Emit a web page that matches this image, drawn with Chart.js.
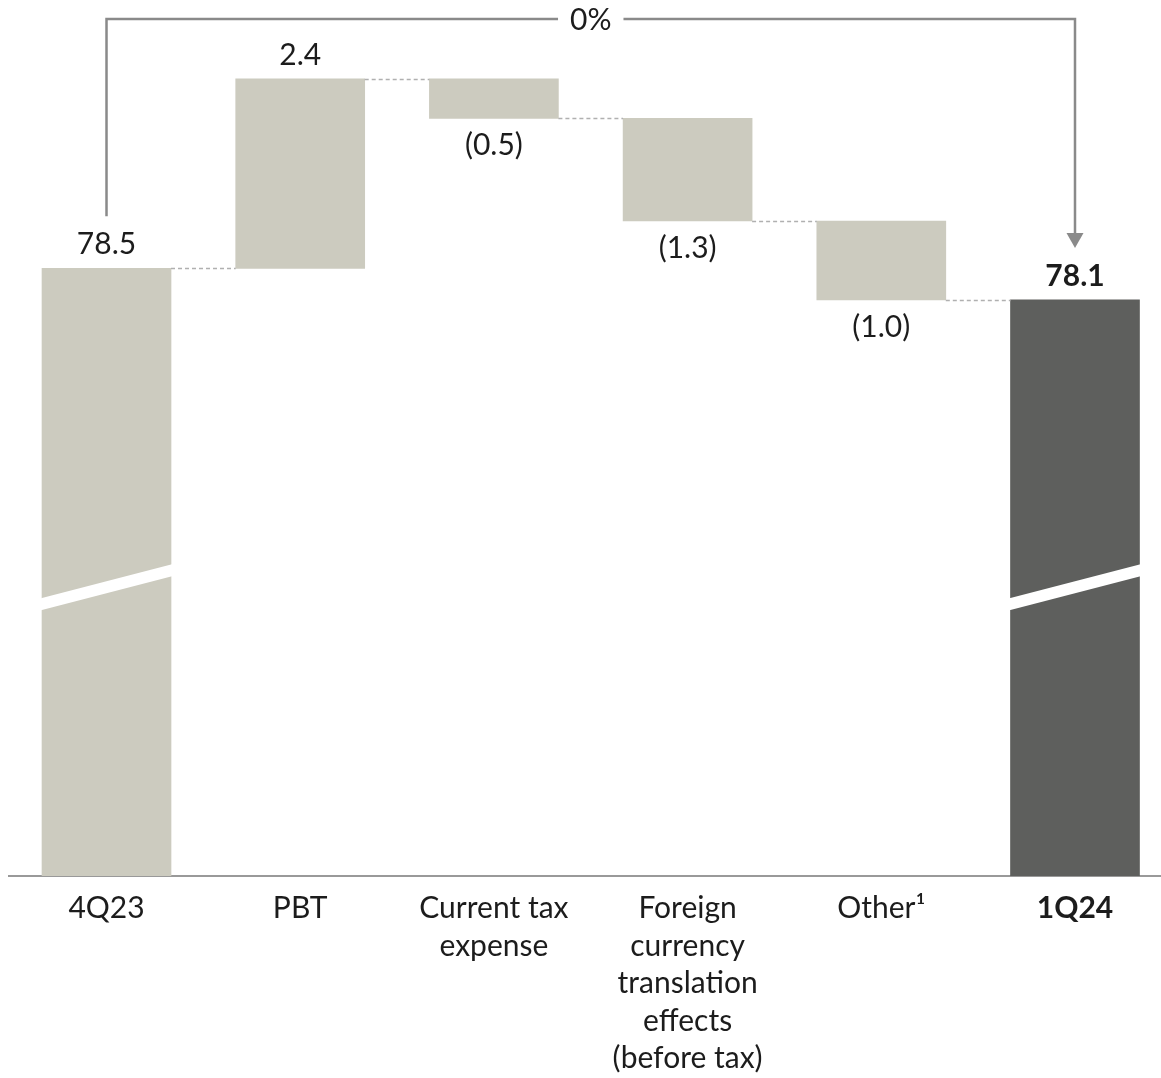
<!DOCTYPE html>
<html>
<head>
<meta charset="utf-8">
<script src="https://cdn.jsdelivr.net/npm/chart.js@4"></script>
<style>
  html, body { margin: 0; padding: 0; background: #fff; }
  #wrap { position: relative; width: 1161px; height: 1078px; }
</style>
</head>
<body>
<div id="wrap"><canvas id="chart"></canvas></div>
<script>
// data
const categories = [
    ['4Q23'],
    ['PBT'],
    ['Current tax', 'expense'],
    ['Foreign', 'currency', 'translation', 'effects', '(before tax)'],
    ['Other\u00B9'],
    ['1Q24']
];
const startValue = 78.5;
const changes = [2.4, -0.5, -1.3, -1.0];
const endValue = 78.1;
const valueLabels = ['78.5', '2.4', '(0.5)', '(1.3)', '(1.0)', '78.1'];
const changeLabel = '0%';

// axis range (the axis is broken, so it does not start at zero)
const yMin = 70.8;
const yMax = 81.9;

const FONT = "Lato, 'Open Sans', sans-serif";
const TEXT = '#1c1c1c';
const LIGHT = '#cccbbf';
const DARK = '#5e5f5d';
const LINE = '#8a8a8a';

// build floating bars for the waterfall
const bars = [];
const levels = []; // running total after each bar
let running = startValue;
bars.push({ x: 0, y: [yMin, startValue] });
levels.push(running);
changes.forEach((c, i) => {
    const from = running;
    running = running + c;
    bars.push({ x: i + 1, y: [Math.min(from, running), Math.max(from, running)] });
    levels.push(running);
});
bars.push({ x: categories.length - 1, y: [yMin, endValue] });
levels.push(endValue);

const colors = bars.map((b, i) => i === bars.length - 1 ? DARK : LIGHT);

// extras drawn on top of the bars: axis breaks, connectors, labels, arrow
const waterfallExtras = {
    id: 'waterfallExtras',
    afterDatasetsDraw(chart) {
        const ctx = chart.ctx;
        const meta = chart.getDatasetMeta(0);
        const y = chart.scales.y;
        const area = chart.chartArea;

        ctx.save();

        // axis break on the two total bars
        [0, bars.length - 1].forEach(i => {
            const el = meta.data[i];
            const half = el.width / 2;
            const yc = y.getPixelForValue(74.46);
            const rise = el.width * 0.264;
            const t = 12;
            ctx.fillStyle = '#fff';
            ctx.beginPath();
            ctx.moveTo(el.x - half - 1, yc + rise / 2 - t / 2);
            ctx.lineTo(el.x + half + 1, yc - rise / 2 - t / 2);
            ctx.lineTo(el.x + half + 1, yc - rise / 2 + t / 2);
            ctx.lineTo(el.x - half - 1, yc + rise / 2 + t / 2);
            ctx.closePath();
            ctx.fill();
        });

        // dashed connectors
        ctx.strokeStyle = '#b0b0b0';
        ctx.lineWidth = 1.5;
        ctx.setLineDash([4, 3]);
        for (let i = 0; i < bars.length - 1; i++) {
            const a = meta.data[i];
            const b = meta.data[i + 1];
            const py = Math.round(y.getPixelForValue(levels[i])) + 0.5;
            ctx.beginPath();
            ctx.moveTo(a.x + a.width / 2, py);
            ctx.lineTo(b.x - b.width / 2, py);
            ctx.stroke();
        }
        ctx.setLineDash([]);

        // value labels
        ctx.textAlign = 'center';
        ctx.textBaseline = 'middle';
        meta.data.forEach((el, i) => {
            const last = i === bars.length - 1;
            ctx.font = (last ? 'bold ' : '') + '30px ' + FONT;
            ctx.fillStyle = TEXT;
            const isDrop = i > 0 && !last && changes[i - 1] < 0;
            if (isDrop) {
                const bottom = y.getPixelForValue(bars[i].y[0]);
                ctx.fillText(valueLabels[i], el.x, bottom + 27);
            } else {
                const top = y.getPixelForValue(bars[i].y[1]);
                ctx.fillText(valueLabels[i], el.x, top - 24);
            }
        });

        // change arrow from first to last bar
        const first = meta.data[0];
        const lastEl = meta.data[bars.length - 1];
        const startY = y.getPixelForValue(startValue) - 52;
        const tipY = y.getPixelForValue(endValue) - 52;
        const topY = area.top + 19;
        const midX = (first.x + lastEl.x) / 2;
        ctx.font = '30px ' + FONT;
        const gap = ctx.measureText(changeLabel).width / 2 + 12;

        ctx.strokeStyle = LINE;
        ctx.lineWidth = 2.5;
        ctx.beginPath();
        ctx.moveTo(first.x, startY);
        ctx.lineTo(first.x, topY);
        ctx.lineTo(midX - gap, topY);
        ctx.moveTo(midX + gap, topY);
        ctx.lineTo(lastEl.x, topY);
        ctx.lineTo(lastEl.x, tipY - 14);
        ctx.stroke();

        ctx.fillStyle = LINE;
        ctx.beginPath();
        ctx.moveTo(lastEl.x - 8.5, tipY - 15);
        ctx.lineTo(lastEl.x + 8.5, tipY - 15);
        ctx.lineTo(lastEl.x, tipY);
        ctx.closePath();
        ctx.fill();

        ctx.fillStyle = TEXT;
        ctx.fillText(changeLabel, midX, topY + 1);

        ctx.restore();
    }
};

new Chart(document.getElementById('chart'), {
    type: 'bar',
    data: {
        datasets: [{
            data: bars,
            backgroundColor: colors,
            borderWidth: 0,
            barThickness: 129
        }]
    },
    options: {
        responsive: true,
        maintainAspectRatio: false,
        animation: false,
        layout: { padding: { left: 9, right: 0, top: 0, bottom: 0 } },
        plugins: {
            legend: { display: false },
            tooltip: { enabled: false }
        },
        scales: {
            x: {
                type: 'linear',
                min: -0.5034,
                max: 5.444,
                offset: false,
                grid: { display: false, drawTicks: false, offset: false },
                border: { display: true, color: '#999', width: 2 },
                afterBuildTicks: axis => {
                    axis.ticks = categories.map((c, i) => ({ value: i }));
                },
                afterFit: axis => { axis.height = 202; },
                ticks: {
                    autoSkip: false,
                    maxRotation: 0,
                    padding: 14,
                    color: TEXT,
                    font: c => ({
                        family: FONT,
                        size: 30,
                        lineHeight: 1.25,
                        weight: c.index === categories.length - 1 ? 'bold' : 'normal'
                    }),
                    callback: (value, index) => categories[index]
                }
            },
            y: {
                display: false,
                min: yMin,
                max: yMax
            }
        }
    },
    plugins: [waterfallExtras]
});
</script>
</body>
</html>
